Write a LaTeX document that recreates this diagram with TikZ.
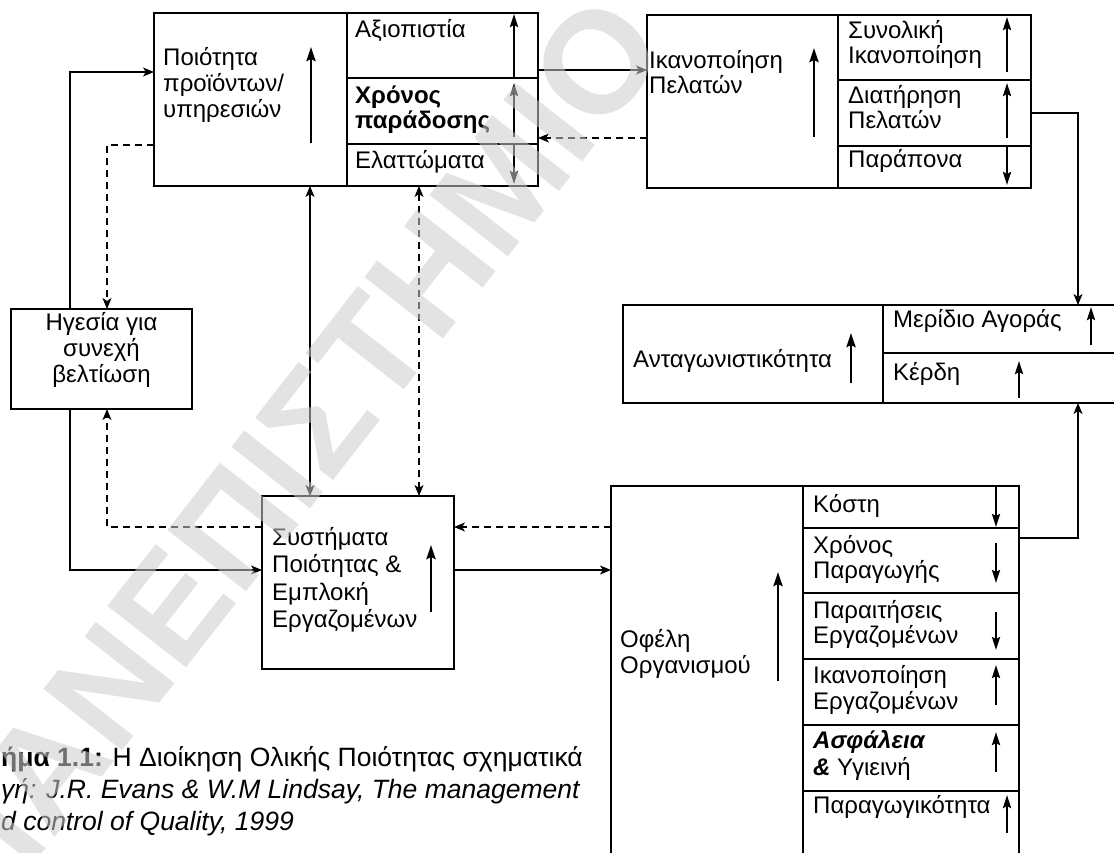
\documentclass[tikz,border=0pt]{standalone}
\usepackage{fontspec}
\setmainfont{Liberation Sans}
\usetikzlibrary{arrows.meta}
% strut that fixes the top of the first text line 20pt above its baseline
\newcommand\fs{\rule{0pt}{20pt}}
\begin{document}
\begin{tikzpicture}[x=1pt,y=-1pt,
  box/.style={draw, line width=1.5pt, anchor=north west, inner sep=0pt, outer sep=0pt},
  cell/.style={line width=1.5pt},
  txt/.style={anchor=north west, inner sep=0pt, align=left, font=\fontsize{24}{26}\selectfont},
  bigarrow/.style={line width=2.8pt, -{Stealth[length=14pt,width=9pt,inset=2pt]}},
  rowarrow/.style={line width=2.5pt, -{Stealth[length=13pt,width=8pt,inset=2pt]}},
  conn/.style={line width=1.3pt, -{Stealth[length=11pt,width=9pt,inset=3pt]}},
  dconn/.style={conn, dash pattern=on 7pt off 5pt},
  capt/.style={anchor=base west, inner sep=0pt, font=\fontsize{26.5}{30}\selectfont}
]
\useasboundingbox (0,0) rectangle (1114,852);
\fill[white] (0,0) rectangle (1114,852);

% helper levels for the connectors
\coordinate (yQC) at (0,70);
\coordinate (yLQ) at (0,72);
\coordinate (yCQ) at (0,138);
\coordinate (yQL) at (0,145);
\coordinate (yCA) at (0,113);
\coordinate (ySL) at (0,527);
\coordinate (ySB) at (0,570);
\coordinate (yBA) at (0,538);
\coordinate (xL1) at (70,0);
\coordinate (xL2) at (107,0);
\coordinate (xS1) at (310,0);
\coordinate (xS2) at (419,0);
\coordinate (xR) at (1078,0);

% ---- Quality of products / services
\node[box, minimum width=384pt, minimum height=173pt] (Q) at (154,13) {};
\draw[cell] (347,13) -- (347,186) (347,78) -- (538,78) (347,144) -- (538,144);
\node[txt] (qt) at (163,45) {\fs Ποιότητα\\προϊόντων/\\υπηρεσιών};
\node[txt] (q1) at (355,17) {\fs Αξιοπιστία};
\node[txt, font=\fontsize{24}{25}\selectfont\bfseries] (q2) at (355,83) {\fs Χρόνος\\παράδοσης};
\node[txt] (q3) at (355,148) {\fs Ελαττώματα};
\draw[bigarrow] (311,143) -- (311,47);
\draw[rowarrow] (514,78) -- (514,14);
\draw[rowarrow] (514,137) -- (514,83);
\draw[rowarrow] (514,145) -- (514,184);

% ---- Customer satisfaction
\node[box, minimum width=384pt, minimum height=173pt] (C) at (647,15) {};
\draw[cell] (838,15) -- (838,188) (838,80) -- (1031,80) (838,146) -- (1031,146);
\node[txt, font=\fontsize{24}{25}\selectfont] (ct) at (649,48) {\fs Ικανοποίηση\\Πελατών};
\node[txt, font=\fontsize{24}{25}\selectfont] (c1) at (848,18) {\fs Συνολική\\Ικανοποίηση};
\node[txt, font=\fontsize{24}{25}\selectfont] (c2) at (848,83) {\fs Διατήρηση\\Πελατών};
\node[txt] (c3) at (848,147) {\fs Παράπονα};
\draw[bigarrow] (814,137) -- (814,48);
\draw[rowarrow] (1007,72) -- (1007,17);
\draw[rowarrow] (1007,138) -- (1007,83);
\draw[rowarrow] (1007,147) -- (1007,185);

% ---- Leadership
\node[box, minimum width=181pt, minimum height=100pt] (L) at (11,309) {};
\node[txt, anchor=north, align=center] (lt) at (101.5,310) {\fs Ηγεσία για\\συνεχή\\βελτίωση};

% ---- Quality systems and employee involvement
\node[box, minimum width=192pt, minimum height=173pt] (S) at (262,496) {};
\node[txt, font=\fontsize{24}{27.5}\selectfont] (st) at (272,525) {\fs Συστήματα\\Ποιότητας \&\\Εμπλοκή\\Εργαζομένων};
\draw[bigarrow] (431,612) -- (431,545);

% ---- Competitiveness
\node[box, minimum width=520pt, minimum height=98pt] (A) at (623,305) {};
\draw[cell] (883,305) -- (883,403) (883,353) -- (1150,353);
\node[txt] (at) at (633,347) {\fs Ανταγωνιστικότητα};
\node[txt] (a1) at (893,307) {\fs Μερίδιο Αγοράς};
\node[txt] (a2) at (893,360) {\fs Κέρδη};
\draw[bigarrow] (851,383) -- (851,333);
\draw[rowarrow] (1091,345) -- (1091,307);
\draw[rowarrow] (1019,398) -- (1019,361);

% ---- Organisational benefits
\node[box, minimum width=408pt, minimum height=400pt] (B) at (611,486) {};
\draw[cell] (803,486) -- (803,900)
  (803,528) -- (1019,528) (803,593) -- (1019,593) (803,659) -- (1019,659)
  (803,725) -- (1019,725) (803,791) -- (1019,791);
\node[txt] (bt) at (620,627) {\fs Οφέλη\\Οργανισμού};
\node[txt] (b1) at (813,492) {\fs Κόστη};
\node[txt, font=\fontsize{24}{25}\selectfont] (b2) at (813,533) {\fs Χρόνος\\Παραγωγής};
\node[txt, font=\fontsize{24}{25}\selectfont] (b3) at (813,598) {\fs Παραιτήσεις\\Εργαζομένων};
\node[txt, font=\fontsize{24}{26}\selectfont] (b4) at (813,663) {\fs Ικανοποίηση\\Εργαζομένων};
\node[txt, font=\fontsize{24}{27}\selectfont] (b5) at (813,728) {\fs \textbf{\textit{Ασφάλεια}}\\\textbf{\textit{\&}} Υγιεινή};
\node[txt] (b6) at (813,793) {\fs Παραγωγικότητα};
\draw[bigarrow] (778,681) -- (778,572);
\draw[rowarrow] (996,487) -- (996,527);
\draw[rowarrow] (996,543) -- (996,583);
\draw[rowarrow] (996,612) -- (996,650);
\draw[rowarrow] (996,705) -- (996,665);
\draw[rowarrow] (996,772) -- (996,732);
\draw[rowarrow] (1007,833) -- (1007,795);

% ---- connectors
\draw[conn] (Q.east |- yQC) -- (C.west |- yQC);
\draw[dconn] (C.west |- yCQ) -- (Q.east |- yCQ);
\draw[conn] (L.north -| xL1) |- (Q.west |- yLQ);
\draw[dconn] (Q.west |- yQL) -| (L.north -| xL2);
\draw[conn] (L.south -| xL1) |- (S.west |- ySB);
\draw[dconn] (S.west |- ySL) -| (L.south -| xL2);
\draw[conn, {Stealth[length=11pt,width=9pt,inset=3pt]}-{Stealth[length=11pt,width=9pt,inset=3pt]}]
  (Q.south -| xS1) -- (S.north -| xS1);
\draw[dconn, {Stealth[length=11pt,width=9pt,inset=3pt]}-{Stealth[length=11pt,width=9pt,inset=3pt]}]
  (Q.south -| xS2) -- (S.north -| xS2);
\draw[dconn] (B.west |- ySL) -- (S.east |- ySL);
\draw[conn] (S.east |- ySB) -- (B.west |- ySB);
\draw[conn] (C.east |- yCA) -| (A.north -| xR);
\draw[conn] (B.east |- yBA) -| (A.south -| xR);

% ---- caption
\node[capt] (cap1) at (1,766) {\textbf{ήμα 1.1:} Η Διοίκηση Ολικής Ποιότητας σχηματικά};
\node[capt, font=\fontsize{26.5}{30}\selectfont\itshape] (cap2) at (1,798) {γή: J.R. Evans \& W.M Lindsay, The management};
\node[capt, font=\fontsize{26.5}{30}\selectfont\itshape] (cap3) at (1,830) {d control of Quality, 1999};

% ---- watermark
\node[rotate=52, inner sep=0pt, text=black!20, opacity=0.55,
  font=\fontsize{145}{145}\selectfont\bfseries] (wm) at (290,455) {ΠΑΝΕΠΙΣΤΗΜΙΟ};
\end{tikzpicture}
\end{document}
